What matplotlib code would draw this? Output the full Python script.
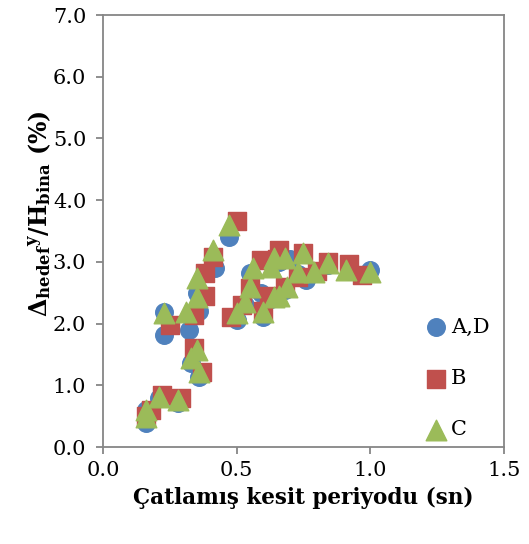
import matplotlib
matplotlib.use("Agg")
import matplotlib.pyplot as plt

plt.rcParams['font.family'] = 'DejaVu Serif'
plt.rcParams['mathtext.fontset'] = 'dejavuserif'

# A,D series (circles)
ad_x = [0.16, 0.16, 0.28, 0.21, 0.33, 0.36, 0.23, 0.23, 0.32, 0.35, 0.36, 0.42, 0.47,
        0.50, 0.53, 0.55, 0.60, 0.59, 0.63, 0.68, 0.66, 0.70, 0.73, 0.76, 0.80, 0.84, 0.92, 1.00]
ad_y = [0.39, 0.60, 0.71, 0.80, 1.36, 1.13, 1.82, 2.19, 1.90, 2.50, 2.20, 2.90, 3.40,
        2.06, 2.30, 2.82, 2.10, 2.50, 2.40, 2.55, 3.00, 3.05, 2.80, 2.70, 2.85, 2.95, 2.85, 2.87]

# B series (squares)
b_x = [0.18, 0.16, 0.29, 0.22, 0.34, 0.37, 0.25, 0.34, 0.38, 0.38, 0.41, 0.50,
       0.48, 0.52, 0.55, 0.59, 0.60, 0.62, 0.65, 0.66, 0.68, 0.73, 0.75, 0.80, 0.84, 0.92, 0.97]
b_y = [0.60, 0.50, 0.79, 0.84, 1.60, 1.22, 1.98, 2.14, 2.45, 2.82, 3.08, 3.66,
       2.10, 2.30, 2.58, 3.03, 2.20, 2.45, 3.05, 3.19, 2.60, 2.75, 3.14, 2.85, 3.00, 2.97, 2.79]

# C series (triangles)
c_x = [0.16, 0.16, 0.21, 0.28, 0.33, 0.35, 0.36, 0.23, 0.31, 0.35, 0.35, 0.41, 0.47,
       0.50, 0.53, 0.55, 0.56, 0.60, 0.64, 0.66, 0.69, 0.64, 0.63, 0.68, 0.75, 0.73,
       0.79, 0.84, 0.91, 1.00]
c_y = [0.49, 0.60, 0.81, 0.76, 1.44, 1.57, 1.22, 2.17, 2.19, 2.43, 2.74, 3.20, 3.60,
       2.17, 2.35, 2.59, 2.90, 2.19, 2.43, 2.45, 2.59, 3.06, 2.92, 3.06, 3.14, 2.84,
       2.84, 2.98, 2.87, 2.84]

fig = plt.figure(figsize=(5.29, 5.44), dpi=100)
ax = fig.add_axes([0.1947, 0.1783, 0.758, 0.794])

ax.scatter(ad_x, ad_y, s=160, marker='o', color='#4F81BD', label='A,D', zorder=3)
ax.scatter(b_x, b_y, s=180, marker='s', color='#C0504D', label='B', zorder=4)
ax.scatter(c_x, c_y, s=220, marker='^', color='#9BBB59', label='C', zorder=5)

ax.set_xlim(0, 1.5)
ax.set_ylim(0, 7)
ax.set_xticks([0, 0.5, 1.0, 1.5])
ax.set_yticks([0, 1, 2, 3, 4, 5, 6, 7])
ax.xaxis.set_major_formatter(matplotlib.ticker.FormatStrFormatter('%.1f'))
ax.yaxis.set_major_formatter(matplotlib.ticker.FormatStrFormatter('%.1f'))

for sp in ax.spines.values():
    sp.set_color('#868686')
    sp.set_linewidth(1.3)
ax.tick_params(direction='out', length=5, width=1.3, color='#868686', labelsize=15)
ax.tick_params(axis='y', pad=7)
ax.tick_params(axis='x', pad=5)

ax.set_xlabel('Çatlamış kesit periyodu (sn)', fontsize=15.5, fontweight='bold', labelpad=5)
ax.set_ylabel(r'$\mathbf{\Delta_{hedef}{}^{y}/H_{bina}}$ (%)', fontsize=17, fontweight='bold',
              labelpad=0)
ax.yaxis.set_label_coords(-0.125, 0.54)

ax.legend(loc='lower right', bbox_to_anchor=(1.0, -0.016), frameon=False, fontsize=15,
          labelspacing=1.55, handletextpad=0.0, borderaxespad=0.3, handlelength=1.4)

plt.savefig('out.png', dpi=100)
